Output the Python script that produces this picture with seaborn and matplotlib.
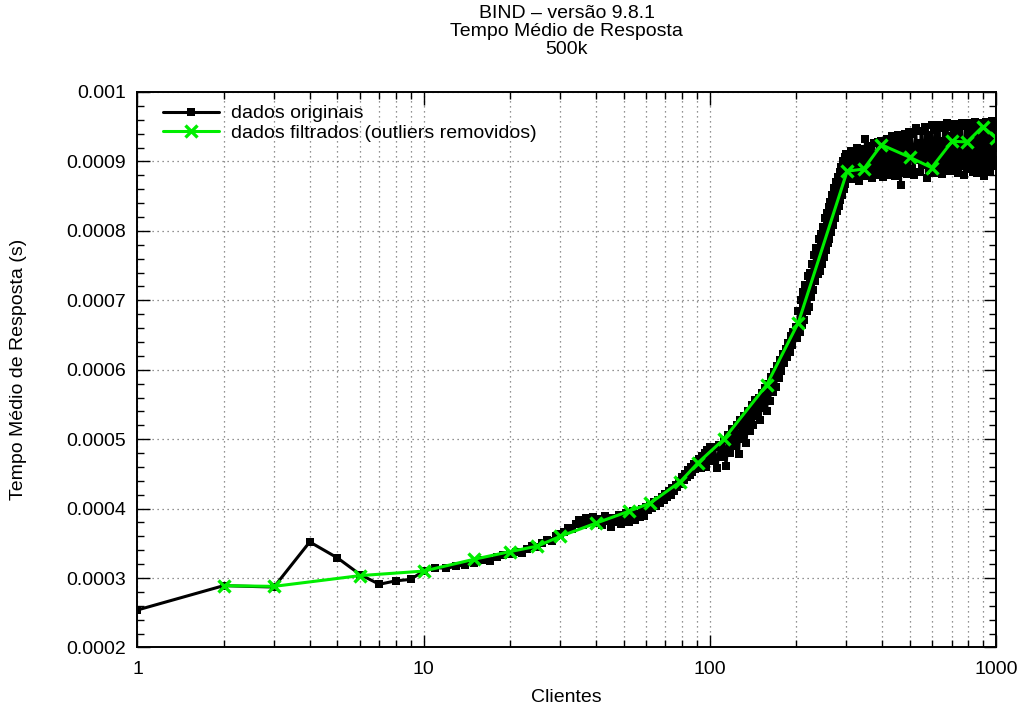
import matplotlib
matplotlib.use("Agg")
import matplotlib.pyplot as plt
import seaborn as sns
from matplotlib.ticker import FixedLocator, NullFormatter, FuncFormatter, MultipleLocator, LogLocator

# número de clientes medidos (dados originais, amostrados do gráfico)
clientes_orig = (list(range(1, 101)) + list(range(102, 301, 2))
                 + list(range(302, 500, 3)) + list(range(500, 1000, 6)))

tempo_orig = [
    # 1 .. 100
    0.000254, 0.000289, 0.000287, 0.000352, 0.000329, 0.000305, 0.000291, 0.000296, 0.000298, 0.000310,
    0.000315, 0.000314, 0.000317, 0.000319, 0.000322, 0.000326, 0.000325, 0.000330, 0.000333, 0.000335,
    0.000338, 0.000336, 0.000342, 0.000346, 0.000345, 0.000351, 0.000355, 0.000354, 0.000360, 0.000364,
    0.000366, 0.000372, 0.000370, 0.000378, 0.000383, 0.000376, 0.000386, 0.000381, 0.000388, 0.000379,
    0.000385, 0.000377, 0.000389, 0.000382, 0.000374, 0.000387, 0.000380, 0.000391, 0.000378, 0.000385,
    0.000393, 0.000381, 0.000389, 0.000396, 0.000384, 0.000392, 0.000388, 0.000399, 0.000390, 0.000402,
    0.000398, 0.000405, 0.000401, 0.000409, 0.000404, 0.000413, 0.000408, 0.000417, 0.000412, 0.000421,
    0.000416, 0.000425, 0.000420, 0.000430, 0.000426, 0.000434, 0.000431, 0.000440, 0.000436, 0.000445,
    0.000441, 0.000450, 0.000446, 0.000455, 0.000449, 0.000460, 0.000452, 0.000464, 0.000457, 0.000468,
    0.000461, 0.000472, 0.000458, 0.000476, 0.000465, 0.000480, 0.000460, 0.000484, 0.000468, 0.000488,
    # 102 .. 300
    0.000470, 0.000488, 0.000458, 0.000492, 0.000475, 0.000499, 0.000462, 0.000506, 0.000480, 0.000514,
    0.000490, 0.000520, 0.000478, 0.000527, 0.000500, 0.000533, 0.000495, 0.000540, 0.000512, 0.000549,
    0.000520, 0.000556, 0.000533, 0.000560, 0.000528, 0.000566, 0.000545, 0.000574, 0.000540, 0.000580,
    0.000555, 0.000590, 0.000568, 0.000597, 0.000575, 0.000606, 0.000588, 0.000614, 0.000598, 0.000622,
    0.000610, 0.000630, 0.000618, 0.000638, 0.000625, 0.000648, 0.000636, 0.000655, 0.000645, 0.000662,
    0.000645, 0.000685, 0.000655, 0.000700, 0.000665, 0.000712, 0.000672, 0.000722, 0.000685, 0.000735,
    0.000690, 0.000740, 0.000705, 0.000752, 0.000715, 0.000765, 0.000728, 0.000775, 0.000738, 0.000788,
    0.000742, 0.000795, 0.000752, 0.000806, 0.000762, 0.000818, 0.000772, 0.000826, 0.000782, 0.000835,
    0.000788, 0.000842, 0.000798, 0.000852, 0.000808, 0.000862, 0.000818, 0.000870, 0.000828, 0.000878,
    0.000836, 0.000885, 0.000845, 0.000892, 0.000852, 0.000900, 0.000860, 0.000906, 0.000868, 0.000910,
    # 302 .. 497
    0.000878, 0.000905, 0.000890, 0.000915, 0.000875, 0.000898, 0.000912, 0.000884, 0.000920, 0.000893,
    0.000872, 0.000908, 0.000887, 0.000918, 0.000901, 0.000879, 0.000932, 0.000895, 0.000883, 0.000914,
    0.000890, 0.000922, 0.000876, 0.000905, 0.000926, 0.000887, 0.000912, 0.000880, 0.000928, 0.000899,
    0.000885, 0.000918, 0.000930, 0.000892, 0.000878, 0.000924, 0.000906, 0.000884, 0.000933, 0.000897,
    0.000912, 0.000881, 0.000927, 0.000903, 0.000936, 0.000888, 0.000918, 0.000879, 0.000930, 0.000908,
    0.000893, 0.000938, 0.000884, 0.000915, 0.000866, 0.000929, 0.000901, 0.000936, 0.000887, 0.000921,
    0.000940, 0.000895, 0.000882, 0.000931, 0.000910, 0.000942,
    # 500 .. 998
    0.000889, 0.000940, 0.000915, 0.000880, 0.000948, 0.000902, 0.000926, 0.000885, 0.000944, 0.000910,
    0.000895, 0.000950, 0.000876, 0.000920, 0.000938, 0.000890, 0.000952, 0.000905, 0.000884, 0.000945,
    0.000918, 0.000887, 0.000953, 0.000899, 0.000930, 0.000882, 0.000948, 0.000912, 0.000893, 0.000955,
    0.000903, 0.000936, 0.000886, 0.000950, 0.000921, 0.000890, 0.000954, 0.000898, 0.000940, 0.000884,
    0.000947, 0.000912, 0.000893, 0.000956, 0.000905, 0.000930, 0.000881, 0.000951, 0.000918, 0.000896,
    0.000955, 0.000889, 0.000938, 0.000908, 0.000950, 0.000885, 0.000927, 0.000957, 0.000896, 0.000942,
    0.000883, 0.000952, 0.000915, 0.000899, 0.000956, 0.000888, 0.000935, 0.000950, 0.000879, 0.000946,
    0.000906, 0.000957, 0.000890, 0.000928, 0.000953, 0.000885, 0.000944, 0.000912, 0.000958, 0.000894,
    0.000949, 0.000902, 0.000955, 0.000920,
]

# dados filtrados (outliers removidos)
clientes_filt = [2, 3, 6, 10, 15, 20, 25, 30, 40, 52, 62, 79, 91, 112, 158, 204,
                 302, 345, 398, 500, 596, 703, 793, 898, 1000]
tempo_filt = [0.000289, 0.000288, 0.0003035, 0.000310, 0.000327, 0.000338, 0.000346,
              0.000360, 0.000379, 0.000396, 0.000408, 0.000439, 0.000466, 0.000500,
              0.000578, 0.000668, 0.000886, 0.000889, 0.000924, 0.000906, 0.000891,
              0.000929, 0.000928, 0.000950, 0.000934]

sns.set_style("ticks")
plt.rcParams["font.family"] = ["Liberation Sans", "DejaVu Sans"]
plt.rcParams["text.color"] = "black"
plt.rcParams["axes.labelcolor"] = "black"
fs = 14

fig = plt.figure(figsize=(10.22, 7.06), dpi=100)
ax = fig.add_axes([0.1345, 0.0829, 0.8400, 0.7868])

sns.lineplot(x=clientes_orig, y=tempo_orig, ax=ax, color="black", linewidth=2.2,
             marker="s", markersize=5.8, markeredgewidth=0, markeredgecolor="black",
             estimator=None, sort=False, label="dados originais")
sns.lineplot(x=clientes_filt, y=tempo_filt, ax=ax, color="#00ee00", linewidth=2.2,
             marker="x", markersize=8, markeredgewidth=2.4, markeredgecolor="#00ee00",
             estimator=None, sort=False, label="dados filtrados (outliers removidos)")

ax.set_xscale("log")
ax.set_xlim(1, 1000)
ax.set_ylim(0.0002, 0.001)

ax.xaxis.set_major_locator(FixedLocator([1, 10, 100, 1000]))
ax.xaxis.set_major_formatter(FuncFormatter(lambda v, p: f"{v:g}"))
ax.xaxis.set_minor_locator(LogLocator(base=10, subs=[2, 3, 4, 5, 6, 7, 8, 9]))
ax.xaxis.set_minor_formatter(NullFormatter())
ax.yaxis.set_major_locator(MultipleLocator(0.0001))
ax.yaxis.set_minor_locator(MultipleLocator(0.00002))
ax.yaxis.set_major_formatter(FuncFormatter(lambda v, p: f"{v:g}"))

ax.tick_params(which="both", direction="in", top=True, right=True, colors="black",
               labelsize=fs, width=1)
ax.tick_params(which="major", length=9)
ax.tick_params(which="minor", length=5)
ax.tick_params(axis="x", which="major", pad=9.5)
ax.tick_params(axis="y", which="major", pad=8.5)

ax.grid(which="major", axis="both", linestyle=(0, (1, 3)), color="#707070", linewidth=0.9)
ax.grid(which="minor", axis="x", linestyle=(0, (1, 3)), color="#707070", linewidth=0.9)

for s in ax.spines.values():
    s.set_linewidth(1.4)
    s.set_color("black")

ax.set_xlabel("Clientes", fontsize=fs, va="center")
ax.set_ylabel("Tempo Médio de Resposta (s)", fontsize=fs, va="center")
ax.xaxis.set_label_coords(0.5, -0.0909)
ax.yaxis.set_label_coords(-0.1380, 0.5)

ax.legend(loc="upper left", bbox_to_anchor=(0.0204, 0.991), borderaxespad=0,
          frameon=False, fontsize=fs, handlelength=2.9, handletextpad=0.62,
          labelspacing=0.1, numpoints=1)

fig.text(0.5545, 1 - 14 / 706, "BIND – versão 9.8.1", ha="center", va="center", fontsize=fs)
fig.text(0.5545, 1 - 31.5 / 706, "Tempo Médio de Resposta", ha="center", va="center", fontsize=fs)
fig.text(0.5545, 1 - 49 / 706, "500k", ha="center", va="center", fontsize=fs)

fig.savefig("out.png", dpi=100)
